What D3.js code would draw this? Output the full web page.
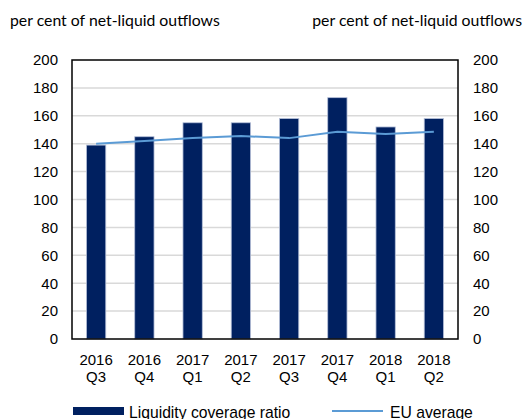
<!DOCTYPE html>
<html><head><meta charset="utf-8">
<script src="https://cdn.jsdelivr.net/npm/d3@7"></script>
<style>body{margin:0;background:#fff}</style>
</head><body>
<script>
const years = ["2016","2016","2017","2017","2017","2017","2018","2018"];
const quarters = ["Q3","Q4","Q1","Q2","Q3","Q4","Q1","Q2"];
const lcr = [139, 145, 155, 155, 158, 173, 152, 158];
const euAvg = [140, 142, 144, 145.5, 144, 148.5, 147, 148.5];
const yTicks = [0,20,40,60,80,100,120,140,160,180,200];
const unitLabel = "per cent of net-liquid outflows";
const legendLabels = ["Liquidity coverage ratio","EU average"];

const W=523,H=419;
const svg=d3.select("body").append("svg").attr("width",W).attr("height",H);
const m={l:72,r:458,t:60,b:339};
const idx=d3.range(years.length);
const x=d3.scaleBand().domain(idx).range([m.l,m.r]).paddingInner(0.6).paddingOuter(0.3);
const y=d3.scaleLinear().domain([0,200]).range([m.b,m.t]);
const font="'Liberation Sans', Arial, sans-serif";

// gridlines
svg.append("g").selectAll("line").data(yTicks.filter(d=>d>0&&d<200)).join("line")
 .attr("x1",m.l).attr("x2",m.r).attr("y1",d=>y(d)).attr("y2",d=>y(d))
 .attr("stroke","#d9d9d9").attr("stroke-width",1.5);

// bars
svg.append("g").selectAll("rect").data(lcr).join("rect")
 .attr("x",(d,i)=>x(i)).attr("width",x.bandwidth())
 .attr("y",d=>y(d)).attr("height",d=>y(0)-y(d))
 .attr("fill","#002060").attr("stroke","#b4bfd8").attr("stroke-width",0.8);

// line
const line=d3.line().x((d,i)=>x(i)+x.bandwidth()/2).y(d=>y(d));
svg.append("path").datum(euAvg).attr("d",line).attr("fill","none")
 .attr("stroke","#5b9bd5").attr("stroke-width",2);

// border
svg.append("rect").attr("x",m.l).attr("y",m.t).attr("width",m.r-m.l).attr("height",m.b-m.t)
 .attr("fill","none").attr("stroke","#000").attr("stroke-width",1.5);

// axes
const yl=d3.axisLeft(y).tickValues(yTicks).tickSize(0).tickPadding(14);
const gl=svg.append("g").attr("transform",`translate(${m.l},0)`).call(yl);
const yr=d3.axisRight(y).tickValues(yTicks).tickSize(0).tickPadding(15);
const gr=svg.append("g").attr("transform",`translate(${m.r},0)`).call(yr);
[gl,gr].forEach(g=>{g.select(".domain").remove();
 g.selectAll("text").attr("font-family",font).attr("font-size",15).attr("fill","#000");});

// x labels
const xl=svg.append("g").selectAll("text").data(idx).join("text")
 .attr("text-anchor","middle").attr("font-family",font).attr("font-size",15).attr("fill","#000")
 .attr("x",i=>x(i)+x.bandwidth()/2);
xl.append("tspan").attr("x",i=>x(i)+x.bandwidth()/2).attr("y",364.5).text(i=>years[i]);
xl.append("tspan").attr("x",i=>x(i)+x.bandwidth()/2).attr("y",382).text(i=>quarters[i]);

// unit labels
const lf="Lato, 'Open Sans', sans-serif";
svg.append("text").attr("x",10).attr("y",26).attr("font-family",lf).attr("font-size",15.8).text(unitLabel);
svg.append("text").attr("x",522).attr("y",26).attr("text-anchor","end").attr("font-family",lf).attr("font-size",15.8).text(unitLabel);

// legend
svg.append("rect").attr("x",73).attr("y",407).attr("width",51).attr("height",8).attr("fill","#002060");
svg.append("text").attr("x",129).attr("y",418).attr("font-family",font).attr("font-size",15.7).text(legendLabels[0]);
svg.append("line").attr("x1",332).attr("x2",383).attr("y1",411).attr("y2",411).attr("stroke","#5b9bd5").attr("stroke-width",2);
svg.append("text").attr("x",390).attr("y",418).attr("font-family",font).attr("font-size",15.7).text(legendLabels[1]);
</script>
</body></html>
